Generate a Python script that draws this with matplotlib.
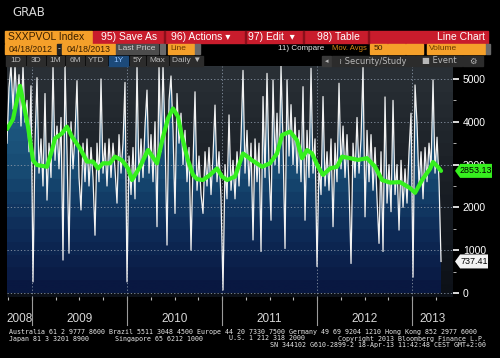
import numpy as np
import matplotlib
matplotlib.use("Agg")
import matplotlib.pyplot as plt
from matplotlib.colors import LinearSegmentedColormap
from matplotlib.patches import Rectangle, Polygon
from matplotlib import transforms

# SXXPVOL Index - daily volume (roughly every other day)
start_date = 2008.737
end_date = 2013.305
volume = [
    3500, 4800, 5300, 4300, 5300, 4400, 5100, 3900, 5300, 4000,
    4500, 3300, 4840, 260, 3500, 5030, 2800, 3600, 2500, 4660,
    2170, 3500, 2700, 5300, 3100, 3900, 2900, 4100, 770, 5300,
    3300, 930, 4000, 2900, 3700, 4960, 2700, 1940, 3500, 2600,
    3600, 2500, 3400, 2700, 1350, 3500, 2600, 5000, 2800, 3500,
    2500, 3600, 2700, 3500, 2900, 2100, 3700, 2800, 3500, 4920,
    260, 3200, 2300, 3400, 2200, 5300, 2600, 3600, 2700, 3900,
    4740, 2800, 3700, 2600, 4000, 1550, 5300, 3300, 5300, 3700,
    1120, 4500, 5070, 3800, 1860, 4660, 3500, 4200, 3000, 3800,
    2600, 3400, 1000, 3000, 4700, 2400, 3200, 2300, 1860, 3300,
    2500, 3400, 2300, 3200, 4390, 2600, 3300, 2200, 70, 3000,
    2200, 4160, 2400, 3100, 2200, 3300, 2500, 3600, 5200, 2800,
    3800, 2500, 3500, 1240, 3600, 2600, 3500, 970, 4590, 2700,
    5130, 2900, 1700, 4980, 3000, 4200, 2800, 5300, 3500, 1040,
    4980, 3200, 4400, 3000, 4100, 2800, 3800, 2600, 4820, 1700,
    3800, 2700, 5250, 2800, 3600, 620, 3000, 2300, 4590, 2500,
    3300, 2400, 3600, 1550, 3500, 2600, 4900, 2900, 3900, 2700,
    3700, 2500, 690, 3500, 2700, 4100, 2800, 3600, 5290, 1780,
    3800, 2600, 3700, 2400, 3400, 2200, 1160, 3300, 970, 4580,
    2100, 3000, 1900, 4500, 2300, 3000, 1470, 3100, 2000, 2900,
    2100, 3300, 4200, 370, 4860, 3950, 2500, 3300, 2200, 3400,
    2600, 3500, 2900, 4980, 2800, 3640, 2600, 737.41,
]

# 50 day moving average (green line)
ma_dates = [
    2008.737, 2008.80, 2008.874, 2008.958, 2009.011, 2009.053, 2009.158,
    2009.211, 2009.242, 2009.316, 2009.368, 2009.421, 2009.505, 2009.579,
    2009.642, 2009.695, 2009.747, 2009.821, 2009.874, 2009.947, 2010.011,
    2010.053, 2010.137, 2010.221, 2010.316, 2010.379, 2010.432, 2010.484,
    2010.537, 2010.579, 2010.642, 2010.695, 2010.737, 2010.80, 2010.874,
    2010.947, 2011.0, 2011.053, 2011.137, 2011.221, 2011.316, 2011.421,
    2011.505, 2011.579, 2011.632, 2011.716, 2011.789, 2011.842, 2011.895,
    2011.947, 2012.011, 2012.063, 2012.137, 2012.211, 2012.263, 2012.347,
    2012.432, 2012.526, 2012.611, 2012.684, 2012.768, 2012.874, 2012.979,
    2013.032, 2013.105, 2013.189, 2013.221, 2013.274, 2013.305,
]
ma_values = [
    3830, 4060, 4840, 3885, 3100, 2990, 2950,
    3340, 3610, 3730, 3885, 3650, 3380, 3070,
    3070, 2910, 3030, 3030, 3185, 3100, 2910,
    2640, 2950, 3340, 3030, 3650, 4080, 4310,
    4120, 3650, 3100, 2760, 2660, 2640, 2760,
    2910, 2720, 2640, 2720, 3260, 3100, 2950,
    3030, 3260, 3690, 3770, 3570, 3150, 3340,
    3260, 2950, 2760, 2910, 2950, 3185, 3150,
    3110, 3150, 2950, 2640, 2580, 2590, 2450,
    2340, 2640, 2900, 3060, 2940, 2853.13,
]

years = [2008, 2009, 2010, 2011, 2012, 2013]
ytick_values = [0, 1000, 2000, 3000, 4000, 5000]

W, H = 500, 358
fig = plt.figure(figsize=(W / 100, H / 100), dpi=100, facecolor="black")
SANS = ["Liberation Sans", "DejaVu Sans"]


def px_rect(x, y, w, h, color, z=1):
    fig.patches.append(Rectangle((x / W, 1 - (y + h) / H), w / W, h / H,
                                 transform=fig.transFigure, color=color, zorder=z))


def px_text(x, y, s, color="white", size=7, ha="center", family=SANS, **kw):
    fig.text(x / W, 1 - y / H, s, color=color, fontsize=size, ha=ha, va="center",
             family=family, **kw)


# title
px_text(12, 12, "GRAB", color="#d8d8d8", size=8.5, ha="left", family="DejaVu Sans")

# toolbar row 1
px_rect(5, 31, 87, 12, "#f5a02a")
px_text(8, 37.5, "SXXPVOL Index", color="#3a2000", size=7.5, ha="left")
px_rect(93, 31, 395, 12, "#c81c2c")
for xs in [164, 245, 303, 368]:
    px_rect(xs, 31, 1.2, 12, "#8a0f1a")
px_text(129, 37.5, "95) Save As", size=7.5)
px_text(201, 37.5, "96) Actions \u25be", size=7.5)
px_text(271, 37.5, "97) Edit  \u25be", size=7.5)
px_text(338, 37.5, "98) Table", size=7.5)
px_text(485, 37.5, "Line Chart", size=7.5, ha="right")

# toolbar row 2
px_rect(5, 44, 52, 10, "#f5a02a")
px_text(31, 49, "04/18/2012", color="#3a2000", size=6.3)
px_rect(57, 44, 5, 10, "#222222")
px_text(59.5, 49, "-", size=6)
px_rect(62, 44, 53, 10, "#f5a02a")
px_text(88.5, 49, "04/18/2013", color="#3a2000", size=6.3)
px_rect(116, 44, 42, 10, "#4c4c4c")
px_text(137, 49, "Last Price", color="#d0d0d0", size=6)
px_rect(160, 44, 5, 10, "#6a6a6a")
px_rect(168, 44, 26, 10, "#f5a02a")
px_text(170, 49, "Line", color="#6a3800", size=6, ha="left")
px_rect(195, 44, 5, 10, "#6a6a6a")
px_text(278, 49, "11) Compare", color="#e8e8e8", size=5.8, ha="left")
px_text(332, 49, "Mov. Avgs", color="#d88a18", size=5.5, ha="left")
for xs in [370, 388, 406]:
    px_rect(xs, 44, 17, 10, "#f5a02a")
px_text(378, 49, "50", color="#3a2000", size=6)
px_rect(427, 44, 58, 10, "#f5a02a")
px_text(429, 49, "Volume", color="#6a3800", size=6, ha="left")
px_rect(486, 44, 4, 10, "#6a6a6a")

# toolbar row 3
buttons = [("1D", 6, 19), ("3D", 27, 18), ("1M", 47, 17), ("6M", 66, 18),
           ("YTD", 86, 21), ("1Y", 109, 19), ("5Y", 130, 15), ("Max", 147, 21),
           ("Daily \u25bc", 170, 33)]
for label, xs, w in buttons:
    px_rect(xs, 56, w, 10, "#1c4a7a" if label == "1Y" else "#2c2c2c")
    px_text(xs + w / 2, 61, label, color="#8fc0ff" if label == "1Y" else "#b8b8b8",
            size=6)
px_rect(322, 56, 9, 10, "#3a3a3a")
px_text(326.5, 61, "\u25c2", color="#b8b8b8", size=5, family="DejaVu Sans")
px_rect(332, 56, 83, 10, "#2c2c2c")
px_text(373, 61, "\u2240 Security/Study", color="#b8b8b8", size=6, family="DejaVu Sans")
px_rect(416, 56, 46, 10, "#2c2c2c")
px_text(439, 61, "\u25a0 Event", color="#b8b8b8", size=6, family="DejaVu Sans")
px_rect(463, 56, 20, 10, "#2c2c2c")
px_text(473, 61, "\u2699", color="#b8b8b8", size=6, family="DejaVu Sans")

# chart axes
x_left, x_right = 2008.737, 2013.431
y_bot, y_top = -93, 5303
ax = fig.add_axes([7 / W, 1 - 297 / H, 446 / W, 231 / H])
ax.set_facecolor("black")

t = np.linspace(start_date, end_date, len(volume))

# banded background
bands = 18
grad = np.floor(np.linspace(0, 1, 300) * bands) / bands
bg_cmap = LinearSegmentedColormap.from_list(
    "bg", ["#0d1118", "#141920", "#1b2026", "#22282e", "#2c3238"])
ax.imshow(grad[:, None], extent=[x_left, x_right, y_bot, y_top], origin="lower",
          aspect="auto", cmap=bg_cmap, zorder=0)

# blue area under the volume line
fill_cmap = LinearSegmentedColormap.from_list(
    "fill", ["#091841", "#0e2c58", "#174a72", "#1e5a82", "#2a76a0"])
poly = ax.fill_between(t, volume, 0, color="none", zorder=1)
im = ax.imshow(grad[:, None], extent=[x_left, x_right, 0, y_top], origin="lower",
               aspect="auto", cmap=fill_cmap, zorder=1)
im.set_clip_path(poly.get_paths()[0], transform=ax.transData)

ax.plot(t, volume, color="#f2f2f2", lw=0.9, zorder=3)
ax.plot(ma_dates, ma_values, color="#36f01e", lw=3.0, zorder=4,
        solid_capstyle="round")

ax.set_xlim(x_left, x_right)
ax.set_ylim(y_bot, y_top)

# grid
for v in ytick_values:
    ax.axhline(v, color="#8a96a6", lw=0.6, ls=(0, (1.5, 2.5)), zorder=2)
for yr in years[1:]:
    ax.axvline(yr, color="#8a96a6", lw=0.6, ls=(0, (1.5, 2.5)), zorder=2)
    ax.plot([yr, yr], [0, -0.121], color="#9a9a9a", lw=0.8, clip_on=False,
            transform=transforms.blended_transform_factory(ax.transData, ax.transAxes))

for s in ax.spines.values():
    s.set_visible(False)

ax.yaxis.tick_right()
ax.set_yticks(ytick_values)
ax.set_yticklabels([str(v) for v in ytick_values])
ax.set_yticks(np.arange(500, 5001, 1000), minor=True)
ax.tick_params(axis="y", which="major", colors="white", labelsize=7.5,
               length=4, width=1.2, pad=3)
ax.tick_params(axis="y", which="minor", colors="#cccccc", length=2, width=0.6)
for lab in ax.get_yticklabels():
    lab.set_family("Liberation Sans")

ax.set_xticks([])
qtrs = np.arange(2008.75, 2013.3, 0.25)
ax.set_xticks(qtrs, minor=True)
ax.tick_params(axis="x", which="minor", colors="#bbbbbb", length=2, width=0.8)

# year labels centred in each visible year
for yr in years:
    a, b = max(yr, x_left), min(yr + 1, x_right)
    ax.text((a + b) / 2, -0.095, str(yr), color="#d8d8d8", fontsize=8.5,
            ha="center", va="center", family="Liberation Sans",
            transform=transforms.blended_transform_factory(ax.transData, ax.transAxes))

# last value tags on the right
tr = transforms.blended_transform_factory(ax.transAxes, ax.transData)
half = 7 * (y_top - y_bot) / 231


def value_tag(val, x_end, face):
    x_tip, x_body = 1.0045, 1.016
    pts = [(x_tip, val), (x_body, val + half), (x_end, val + half),
           (x_end, val - half), (x_body, val - half)]
    ax.add_patch(Polygon(pts, closed=True, transform=tr, clip_on=False,
                         facecolor=face, edgecolor="none", zorder=10))
    ax.text((x_body + x_end) / 2, val, f"{val:.2f}", transform=tr, color="black",
            fontsize=6.4, ha="center", va="center", family="Liberation Sans",
            zorder=11, clip_on=False)


value_tag(ma_values[-1], 1.0874, "#36f01e")
value_tag(volume[-1], 1.0785, "#f2f2f2")

# footer
mono = "DejaVu Sans Mono"
fs = 4.75
px_text(9, 332, "Australia 61 2 9777 8600 Brazil 5511 3048 4500 Europe 44 20 7330 7500 "
        "Germany 49 69 9204 1210 Hong Kong 852 2977 6000",
        color="#e8e8e8", size=fs, ha="left", family=mono)
px_text(9, 338.5, "Japan 81 3 3201 8900", color="#e8e8e8", size=fs, ha="left", family=mono)
px_text(115, 338.5, "Singapore 65 6212 1000", color="#e8e8e8", size=fs, ha="left", family=mono)
px_text(229, 338.5, "U.S. 1 212 318 2000", color="#e8e8e8", size=fs, ha="left", family=mono)
px_text(486, 338.5, "Copyright 2013 Bloomberg Finance L.P.", color="#e8e8e8", size=fs,
        ha="right", family=mono)
px_text(486, 345, "SN 344102 G610-2899-2 18-Apr-13 11:42:48 CEST GMT+2:00",
        color="#e8e8e8", size=fs, ha="right", family=mono)

fig.savefig("out.png", dpi=100, facecolor="black")
